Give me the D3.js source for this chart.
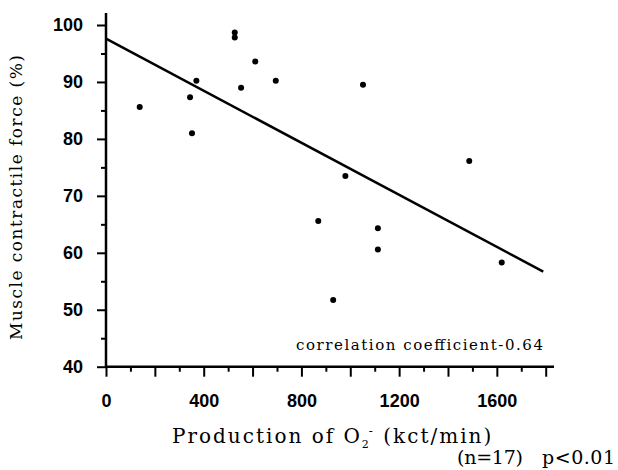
<!DOCTYPE html>
<html>
<head>
<meta charset="utf-8">
<script src="https://cdn.jsdelivr.net/npm/d3@7/dist/d3.min.js"></script>
<style>
  html, body { margin: 0; padding: 0; background: #fff; }
  svg { display: block; }
  .tick text { font-family: "Liberation Sans", Arial, sans-serif; font-weight: bold; font-size: 18px; fill: #000; }
  .tick line { stroke: #000; stroke-width: 2; }
  .serif { font-family: "DejaVu Serif", "Liberation Serif", serif; fill: #000; }
</style>
</head>
<body>
<div id="chart"></div>
<script>
// O2- production vs muscle contractile force, 17 subjects
const production = [138, 344, 352, 370, 527, 527, 553, 611, 695, 869, 930, 980, 1052, 1113, 1113, 1487, 1620];
const force      = [85.6, 87.3, 81.0, 90.2, 98.7, 97.8, 89.0, 93.6, 90.2, 65.6, 51.7, 73.5, 89.5, 64.3, 60.6, 76.1, 58.3];

// regression line ends
const fitX = [0, 1790];
const fitY = [97.6, 56.7];

const xMajor = [0, 200, 400, 600, 800, 1000, 1200, 1400, 1600, 1800];
const xMinor = [100, 300, 500, 700, 900, 1100, 1300, 1500, 1700];
const xLabeled = [0, 400, 800, 1200, 1600];
const yMajor = [40, 50, 60, 70, 80, 90, 100];
const yMinor = [45, 55, 65, 75, 85, 95];

const W = 618, H = 470;
const svg = d3.select('#chart').append('svg')
  .attr('width', W).attr('height', H);

const x = d3.scaleLinear().domain([0, 1800]).range([106, 545.7]);
const y = d3.scaleLinear().domain([40, 100]).range([366.7, 25]);

// y axis
const gy = svg.append('g').attr('transform', `translate(${x(0)},0)`);
gy.call(d3.axisLeft(y).tickValues(yMajor).tickSize(9).tickPadding(14).tickFormat(d3.format('d')));
gy.call((g) => g.select('.domain').remove());
gy.append('g').call(d3.axisLeft(y).tickValues(yMinor).tickSize(5).tickFormat(''))
  .call((g) => g.select('.domain').remove());

// x axis
const gx = svg.append('g').attr('transform', `translate(0,${y(40)})`);
gx.call(d3.axisBottom(x).tickValues(xMajor).tickSize(10).tickPadding(18)
  .tickFormat((d) => xLabeled.includes(d) ? d : ''));
gx.call((g) => g.select('.domain').remove());
gx.append('g').call(d3.axisBottom(x).tickValues(xMinor).tickSize(5).tickFormat(''))
  .call((g) => g.select('.domain').remove());

// axis lines (y runs a bit above 100, x a bit past 1800)
svg.append('line').attr('x1', x(0)).attr('x2', x(0)).attr('y1', 13).attr('y2', y(40) + 1)
  .attr('stroke', '#000').attr('stroke-width', 2.5);
svg.append('line').attr('x1', x(0) - 1).attr('x2', 554).attr('y1', y(40)).attr('y2', y(40))
  .attr('stroke', '#000').attr('stroke-width', 2.5);

// regression line
svg.append('line')
  .attr('x1', x(fitX[0])).attr('y1', y(fitY[0]))
  .attr('x2', x(fitX[1])).attr('y2', y(fitY[1]))
  .attr('stroke', '#000').attr('stroke-width', 2.5);

// points
svg.selectAll('circle.pt').data(production).enter().append('circle')
  .attr('class', 'pt')
  .attr('cx', (d) => x(d))
  .attr('cy', (d, i) => y(force[i]))
  .attr('r', 3)
  .attr('fill', '#000');

// titles
svg.append('text').attr('class', 'serif')
  .attr('transform', 'translate(22,197.5) rotate(-90)')
  .attr('text-anchor', 'middle')
  .attr('font-size', 17)
  .attr('textLength', 285).attr('lengthAdjust', 'spacing')
  .text('Muscle contractile force (%)');

const xt = svg.append('text').attr('class', 'serif')
  .attr('x', 172).attr('y', 443)
  .attr('font-size', 20)
  .attr('letter-spacing', 2);
xt.append('tspan').text('Production of O');
xt.append('tspan').attr('font-size', 11).attr('dy', 5).attr('letter-spacing', 0).text('2');
xt.append('tspan').attr('font-size', 12).attr('dy', -13).text('-');
xt.append('tspan').attr('dy', 8).text(' (kct/min)');

svg.append('text').attr('class', 'serif')
  .attr('x', 457).attr('y', 464)
  .attr('font-size', 19)
  .attr('textLength', 66).attr('lengthAdjust', 'spacing')
  .text('(n=17)');
svg.append('text').attr('class', 'serif')
  .attr('x', 542).attr('y', 464)
  .attr('font-size', 19)
  .attr('textLength', 73).attr('lengthAdjust', 'spacing')
  .text('p<0.01');

svg.append('text').attr('class', 'serif')
  .attr('x', 296).attr('y', 350)
  .attr('font-size', 15)
  .attr('textLength', 247).attr('lengthAdjust', 'spacing')
  .text('correlation coefficient-0.64');
</script>
</body>
</html>
